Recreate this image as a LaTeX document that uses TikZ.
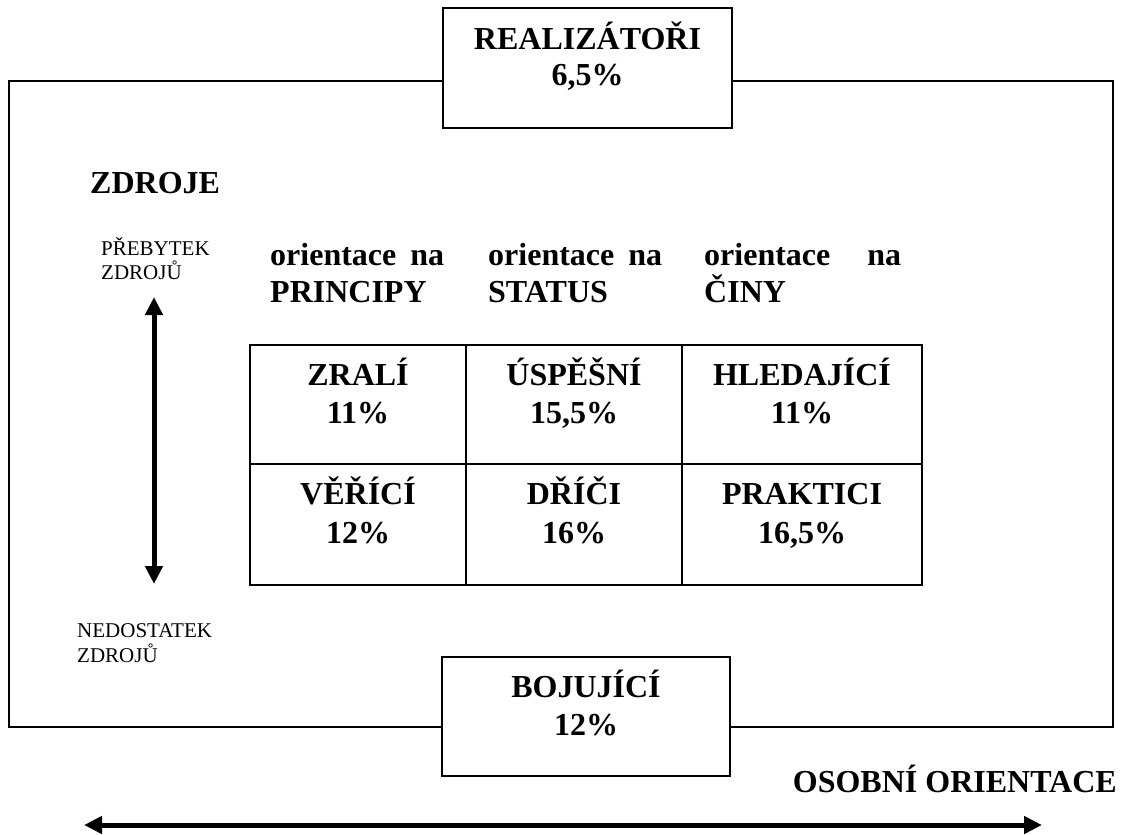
\documentclass[tikz,border=0pt]{standalone}
\usepackage{fontspec}
\setmainfont{Liberation Serif}
\usetikzlibrary{arrows.meta}
\tikzset{
  big/.style={font=\fontsize{32}{37}\selectfont\bfseries, inner sep=0pt},
  small/.style={font=\fontsize{21}{24}\selectfont, inner sep=0pt},
  boxnode/.style={draw, line width=1.4pt, fill=white, inner sep=0pt},
  cell/.style={draw, line width=1.5pt, inner sep=0pt},
  thick arrow/.style={line width=5pt, {Triangle[length=18pt,width=17pt]}-{Triangle[length=18pt,width=17pt]}}
}
\begin{document}
\begin{tikzpicture}[x=1pt,y=-1pt]
\useasboundingbox (0,0) rectangle (1122,835);
% outer frame
\draw[line width=1.4pt] (9,81) rectangle (1113,727);
% top and bottom boxes
\node[boxnode, minimum width=289pt, minimum height=120pt] (real) at (587.5,68) {};
\node[big, anchor=base] (realt) at (587.5,49) {REALIZÁTOŘI};
\node[big, anchor=base] (realp) at (587.5,85) {6,5\%};
\node[boxnode, minimum width=288pt, minimum height=119pt] (boj) at (586,716.5) {};
\node[big, anchor=base] (bojt) at (586,697) {BOJUJÍCÍ};
\node[big, anchor=base] (bojp) at (586,735) {12\%};
% left labels
\node[big, anchor=base west] (zdroje) at (90,193) {ZDROJE};
\node[small, anchor=base west] (preb1) at (101,255) {PŘEBYTEK};
\node[small, anchor=base west] (preb2) at (101,279) {ZDROJŮ};
\node[small, anchor=base west] (ned1) at (77,637) {NEDOSTATEK};
\node[small, anchor=base west] (ned2) at (77,662) {ZDROJŮ};
% vertical arrow
\coordinate (vt) at (154,297);
\coordinate (vb) at (154,584);
\draw[thick arrow] (vt) -- (vb);
% column headers
\node[big, anchor=base west] (h1a) at (270,265) {\makebox[174pt][s]{orientace na}};
\node[big, anchor=base west] (h1b) at (270,302) {PRINCIPY};
\node[big, anchor=base west] (h2a) at (488,265) {\makebox[174pt][s]{orientace na}};
\node[big, anchor=base west] (h2b) at (488,302) {STATUS};
\node[big, anchor=base west] (h3a) at (704,265) {\makebox[197pt][s]{orientace na}};
\node[big, anchor=base west] (h3b) at (704,302) {ČINY};
% table
\node[cell, minimum width=216pt, minimum height=119pt] (c11) at (358,404.5) {};
\node[cell, minimum width=216pt, minimum height=119pt] (c12) at (574,404.5) {};
\node[cell, minimum width=240pt, minimum height=119pt] (c13) at (802,404.5) {};
\node[cell, minimum width=216pt, minimum height=121pt] (c21) at (358,524.5) {};
\node[cell, minimum width=216pt, minimum height=121pt] (c22) at (574,524.5) {};
\node[cell, minimum width=240pt, minimum height=121pt] (c23) at (802,524.5) {};
\node[big, anchor=base] (t11a) at (358,385) {ZRALÍ};
\node[big, anchor=base] (t11b) at (358,423) {11\%};
\node[big, anchor=base] (t12a) at (574,385) {ÚSPĚŠNÍ};
\node[big, anchor=base] (t12b) at (574,423) {15,5\%};
\node[big, anchor=base] (t13a) at (802,385) {HLEDAJÍCÍ};
\node[big, anchor=base] (t13b) at (802,423) {11\%};
\node[big, anchor=base] (t21a) at (358,504) {VĚŘÍCÍ};
\node[big, anchor=base] (t21b) at (358,543) {12\%};
\node[big, anchor=base] (t22a) at (574,504) {DŘÍČI};
\node[big, anchor=base] (t22b) at (574,543) {16\%};
\node[big, anchor=base] (t23a) at (802,504) {PRAKTICI};
\node[big, anchor=base] (t23b) at (802,543) {16,5\%};
% bottom label and arrow
\node[big, anchor=base east] (osob) at (1117,792) {OSOBNÍ ORIENTACE};
\coordinate (hl) at (84,825);
\coordinate (hr) at (1042,825);
\draw[thick arrow] (hl) -- (hr);
\end{tikzpicture}
\end{document}
